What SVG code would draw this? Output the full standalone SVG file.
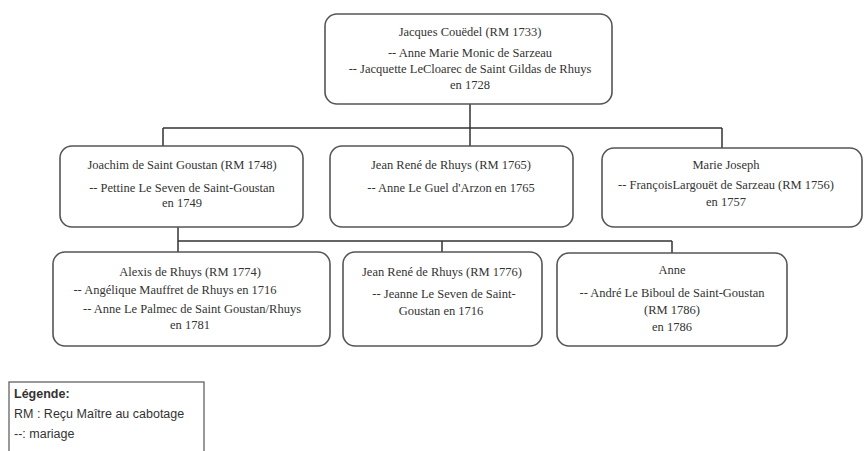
<svg xmlns="http://www.w3.org/2000/svg" width="865" height="451" viewBox="0 0 865 451">
<style>
.box{fill:#fff;stroke:#555;stroke-width:1.6}
.t{font-family:"Liberation Serif","Times New Roman",serif;font-size:12.5px;fill:#333;text-anchor:middle}
.c{fill:none;stroke:#333;stroke-width:1.5}
.lg{font-family:"Liberation Sans",Arial,sans-serif;font-size:12.5px;fill:#333}
</style>
<rect width="865" height="451" fill="#fff"/>
<g id="connectors">
<path class="c" d="M470 104V147M163 128H722M163 128V147M722 128V149"/>
<path class="c" d="M178 227V241H672M178 241V252M442 241V252M672 241V253"/>
</g>
<g id="jacques">
<rect class="box" x="325" y="14" width="287" height="90" rx="12"/>
<text class="t" x="470" y="36">Jacques Couëdel (RM 1733)</text>
<text class="t" x="470" y="57">-- Anne Marie Monic de Sarzeau</text>
<text class="t" x="470" y="73">-- Jacquette LeCloarec de Saint Gildas de Rhuys</text>
<text class="t" x="470" y="89">en 1728</text>
</g>
<g id="joachim">
<rect class="box" x="60" y="146" width="243" height="81" rx="12"/>
<text class="t" x="182" y="169">Joachim de Saint Goustan (RM 1748)</text>
<text class="t" x="182" y="192">-- Pettine Le Seven de Saint-Goustan</text>
<text class="t" x="182" y="207">en 1749</text>
</g>
<g id="jeanrene1765">
<rect class="box" x="330" y="146" width="243" height="81" rx="12"/>
<text class="t" x="451" y="169">Jean René de Rhuys (RM 1765)</text>
<text class="t" x="451" y="192">-- Anne Le Guel d'Arzon en 1765</text>
</g>
<g id="mariejoseph">
<rect class="box" x="602" y="148" width="260" height="79" rx="12"/>
<text class="t" x="726" y="169">Marie Joseph</text>
<text class="t" x="726" y="189">-- FrançoisLargouët de Sarzeau (RM 1756)</text>
<text class="t" x="726" y="206">en 1757</text>
</g>
<g id="alexis">
<rect class="box" x="53" y="252" width="277" height="94" rx="12"/>
<text class="t" x="190" y="276">Alexis de Rhuys (RM 1774)</text>
<text class="t" x="175" y="294">-- Angélique Mauffret de Rhuys en 1716</text>
<text class="t" x="192" y="313">-- Anne Le Palmec de Saint Goustan/Rhuys</text>
<text class="t" x="190" y="329">en 1781</text>
</g>
<g id="jeanrene1776">
<rect class="box" x="343" y="252" width="199" height="94" rx="12"/>
<text class="t" x="442" y="276">Jean René de Rhuys (RM 1776)</text>
<text class="t" x="444" y="298">-- Jeanne Le Seven de Saint-</text>
<text class="t" x="441" y="315">Goustan en 1716</text>
</g>
<g id="anne">
<rect class="box" x="557" y="253" width="230" height="93" rx="12"/>
<text class="t" x="672" y="274">Anne</text>
<text class="t" x="672" y="297">-- André Le Biboul de Saint-Goustan</text>
<text class="t" x="672" y="314">(RM 1786)</text>
<text class="t" x="672" y="331">en 1786</text>
</g>
<g id="legend">
<rect x="9" y="382" width="195" height="80" fill="#fff" stroke="#555" stroke-width="1.2"/>
<text class="lg" x="14" y="398" font-weight="bold">Légende:</text>
<text class="lg" x="14" y="418">RM : Reçu Maître au cabotage</text>
<text class="lg" x="14" y="438">--: mariage</text>
</g>
</svg>
